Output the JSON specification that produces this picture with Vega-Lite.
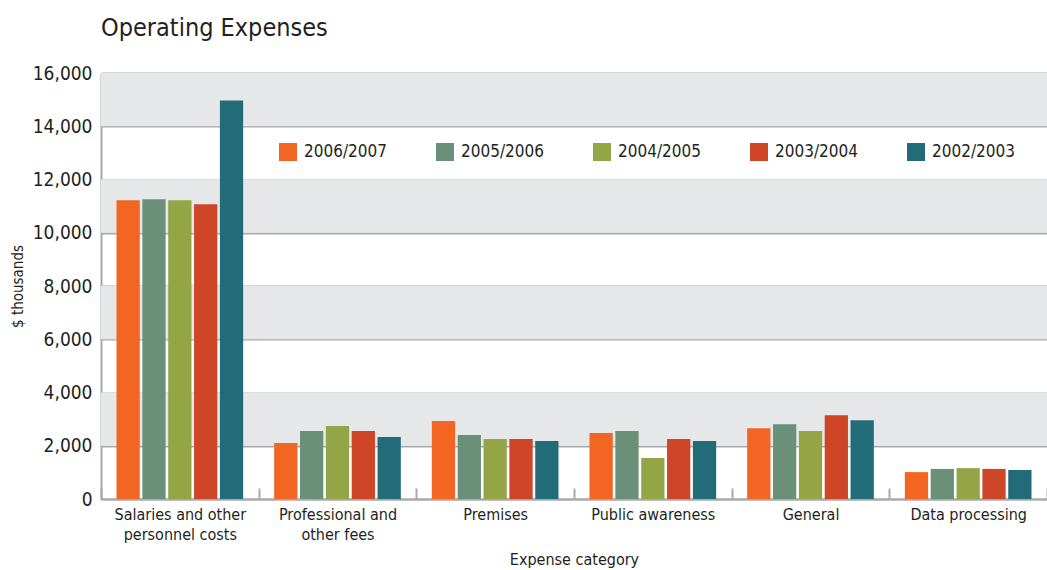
{
  "$schema": "https://vega.github.io/schema/vega-lite/v6.json",
  "width": 946,
  "height": 426,
  "autosize": "none",
  "padding": {"left": 101, "top": 73, "right": 0, "bottom": 71},
  "background": "white",
  "title": {
    "text": "Operating Expenses",
    "anchor": "start",
    "frame": "group",
    "fontSize": 25,
    "font": "DejaVu Sans Condensed, sans-serif",
    "fontWeight": "normal",
    "color": "#231F20",
    "baseline": "alphabetic",
    "offset": 3
  },
  "config": {
    "view": {"stroke": null},
    "font": "DejaVu Sans Condensed, sans-serif"
  },
  "datasets": {
    "bands": [
      {"lo": 2000, "hi": 4000},
      {"lo": 6000, "hi": 8000},
      {"lo": 10000, "hi": 12000},
      {"lo": 14000, "hi": 16000}
    ],
    "expenses": [
      {"category": "Salaries and other personnel costs", "year": "2006/2007", "value": 11220},
      {"category": "Salaries and other personnel costs", "year": "2005/2006", "value": 11260},
      {"category": "Salaries and other personnel costs", "year": "2004/2005", "value": 11220},
      {"category": "Salaries and other personnel costs", "year": "2003/2004", "value": 11070},
      {"category": "Salaries and other personnel costs", "year": "2002/2003", "value": 14970},
      {"category": "Professional and other fees", "year": "2006/2007", "value": 2100},
      {"category": "Professional and other fees", "year": "2005/2006", "value": 2550},
      {"category": "Professional and other fees", "year": "2004/2005", "value": 2740},
      {"category": "Professional and other fees", "year": "2003/2004", "value": 2550},
      {"category": "Professional and other fees", "year": "2002/2003", "value": 2330},
      {"category": "Premises", "year": "2006/2007", "value": 2930},
      {"category": "Premises", "year": "2005/2006", "value": 2400},
      {"category": "Premises", "year": "2004/2005", "value": 2250},
      {"category": "Premises", "year": "2003/2004", "value": 2250},
      {"category": "Premises", "year": "2002/2003", "value": 2180},
      {"category": "Public awareness", "year": "2006/2007", "value": 2480},
      {"category": "Public awareness", "year": "2005/2006", "value": 2550},
      {"category": "Public awareness", "year": "2004/2005", "value": 1540},
      {"category": "Public awareness", "year": "2003/2004", "value": 2250},
      {"category": "Public awareness", "year": "2002/2003", "value": 2180},
      {"category": "General", "year": "2006/2007", "value": 2660},
      {"category": "General", "year": "2005/2006", "value": 2810},
      {"category": "General", "year": "2004/2005", "value": 2550},
      {"category": "General", "year": "2003/2004", "value": 3150},
      {"category": "General", "year": "2002/2003", "value": 2960},
      {"category": "Data processing", "year": "2006/2007", "value": 1010},
      {"category": "Data processing", "year": "2005/2006", "value": 1130},
      {"category": "Data processing", "year": "2004/2005", "value": 1160},
      {"category": "Data processing", "year": "2003/2004", "value": 1130},
      {"category": "Data processing", "year": "2002/2003", "value": 1090}
    ]
  },
  "layer": [
    {
      "data": {"name": "bands"},
      "mark": {"type": "rect", "color": "#E6E7E9"},
      "encoding": {
        "y": {"field": "lo", "type": "quantitative", "scale": {"domain": [0, 16000]}},
        "y2": {"field": "hi"}
      }
    },
    {
      "data": {"name": "expenses"},
      "mark": {"type": "bar"},
      "encoding": {
        "x": {
          "field": "category",
          "type": "nominal",
          "sort": null,
          "scale": {"paddingInner": 0, "paddingOuter": 0},
          "axis": {
            "title": "Expense category",
            "titleFontSize": 16,
            "titleFontWeight": "normal",
            "titleColor": "#231F20",
            "titlePadding": 9,
            "labelAngle": 0,
            "labelFontSize": 16,
            "labelColor": "#231F20",
            "labelLineHeight": 20,
            "labelPadding": 18,
            "labelExpr": "datum.label == 'Salaries and other personnel costs' ? ['Salaries and other', 'personnel costs'] : datum.label == 'Professional and other fees' ? ['Professional and', 'other fees'] : datum.label",
            "tickBand": "extent",
            "tickSize": -11,
            "tickColor": "#A7A9AC",
            "tickWidth": 2,
            "domainColor": "#A7A9AC",
            "domainWidth": 2
          }
        },
        "xOffset": {
          "field": "year",
          "type": "nominal",
          "sort": ["2006/2007", "2005/2006", "2004/2005", "2003/2004", "2002/2003"],
          "scale": {"paddingInner": 0.1, "paddingOuter": 0.6}
        },
        "y": {
          "field": "value",
          "type": "quantitative",
          "scale": {"domain": [0, 16000]},
          "axis": {
            "title": "$ thousands",
            "titleFontSize": 15,
            "titleFontWeight": "normal",
            "titleColor": "#231F20",
            "titleX": -76,
            "titleY": 213,
            "titleAngle": -90,
            "titleBaseline": "bottom",
            "titleAlign": "center",
            "values": [0, 2000, 4000, 6000, 8000, 10000, 12000, 14000, 16000],
            "format": ",d",
            "labelFontSize": 19,
            "labelColor": "#231F20",
            "labelPadding": 9,
            "ticks": false,
            "grid": true,
            "gridColor": "#A7A9AC",
            "gridWidth": 2,
            "domainColor": "#A7A9AC",
            "domainWidth": 2
          }
        },
        "color": {
          "field": "year",
          "type": "nominal",
          "sort": ["2006/2007", "2005/2006", "2004/2005", "2003/2004", "2002/2003"],
          "scale": {"range": ["#F26522", "#6B907A", "#94A545", "#CF4527", "#226C7A"]},
          "legend": {
            "title": null,
            "orient": "none",
            "legendX": 178,
            "legendY": 70,
            "direction": "horizontal",
            "columns": 5,
            "columnPadding": 49,
            "symbolType": "square",
            "symbolSize": 324,
            "symbolStrokeWidth": 0,
            "symbolOpacity": 1,
            "labelFontSize": 17,
            "labelColor": "#231F20",
            "labelOffset": 7
          }
        }
      }
    }
  ]
}
